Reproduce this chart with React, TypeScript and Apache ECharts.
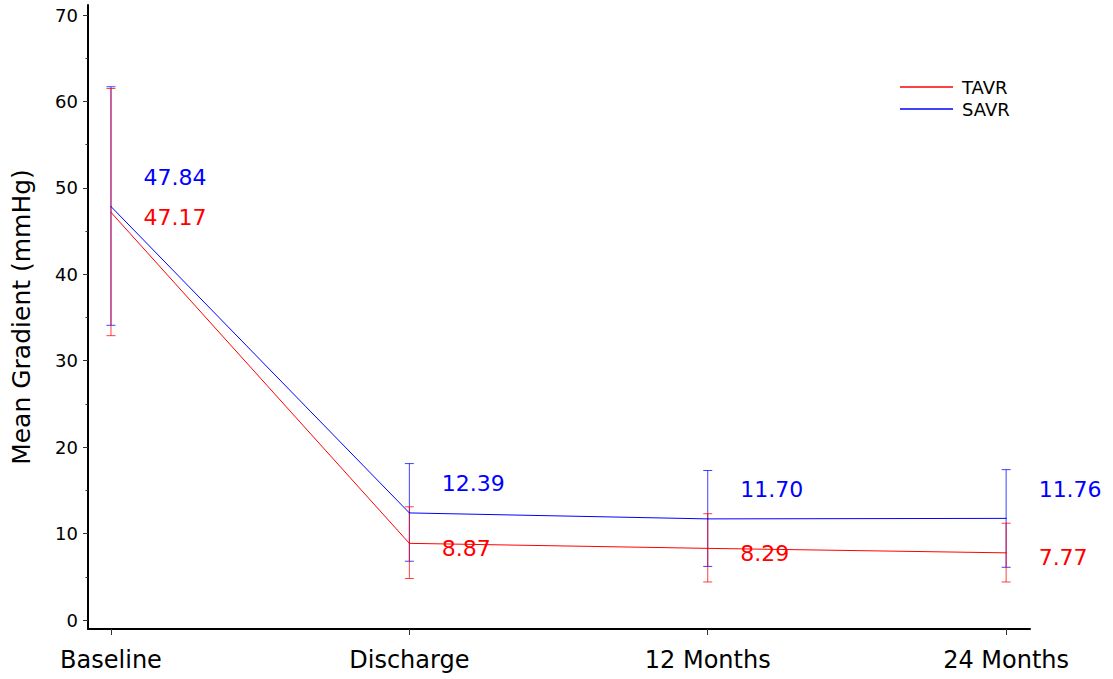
import React, { useEffect, useRef } from "react";
import * as echarts from "echarts";

const categories = ["Baseline", "Discharge", "12 Months", "24 Months"];
const tavrMean = [47.17, 8.87, 8.29, 7.77];
const savrMean = [47.84, 12.39, 11.7, 11.76];
const tavrLow = [32.9, 4.8, 4.4, 4.4];
const tavrHigh = [61.5, 13.1, 12.3, 11.2];
const savrLow = [34.1, 6.8, 6.2, 6.1];
const savrHigh = [61.7, 18.1, 17.3, 17.4];
const yMajorTicks = [0, 10, 20, 30, 40, 50, 60, 70];
const yMinorTicks = [5, 15, 25, 35, 45, 55, 65];
const xTicks = [0, 1, 2, 3];

const RED = "#ff0000";
const BLUE = "#0000ff";
const FONT = "DejaVu Sans";

function errorSeries(name: string, low: number[], high: number[], color: string) {
  return {
    type: "custom",
    name: name + "_err",
    data: low.map((l, i) => [i, l, high[i]]),
    z: 3,
    renderItem: (params: any, api: any) => {
      const x = api.value(0);
      const lo = api.coord([x, api.value(1)]);
      const hi = api.coord([x, api.value(2)]);
      const w = 4.5;
      const style = { stroke: color, lineWidth: 1, opacity: 0.75 };
      return {
        type: "group",
        children: [
          { type: "line", shape: { x1: lo[0], y1: lo[1], x2: hi[0], y2: hi[1] }, style },
          { type: "line", shape: { x1: lo[0] - w, y1: lo[1], x2: lo[0] + w, y2: lo[1] }, style },
          { type: "line", shape: { x1: hi[0] - w, y1: hi[1], x2: hi[0] + w, y2: hi[1] }, style },
        ],
      };
    },
  };
}

function lineSeries(name: string, values: number[], color: string, dy: number) {
  return {
    type: "line",
    name,
    data: values.map((v, i) => [i, v]),
    symbol: "circle",
    symbolSize: 1,
    showSymbol: true,
    z: 4,
    lineStyle: { color, width: 1 },
    itemStyle: { color },
    label: {
      show: true,
      position: "right",
      distance: 32,
      offset: [0, dy],
      color,
      fontFamily: FONT,
      fontSize: 22,
      formatter: (p: any) => Number(p.value[1]).toFixed(2),
    },
  };
}

export default function App() {
  const ref = useRef<HTMLDivElement>(null);
  useEffect(() => {
    document.body.style.margin = "0";
    const chart = echarts.init(ref.current!, null, { renderer: "svg" });
    chart.setOption({
      animation: false,
      backgroundColor: "#ffffff",
      textStyle: { fontFamily: FONT },
      grid: { left: 88, right: 83, top: 5, bottom: 50 },
      legend: {
        orient: "vertical",
        left: 895,
        top: 73,
        itemWidth: 53,
        itemHeight: 1.5,
        itemGap: 4,
        data: [
          { name: "TAVR", icon: "rect" },
          { name: "SAVR", icon: "rect" },
        ],
        textStyle: { fontSize: 18, color: "#000", fontFamily: FONT, lineHeight: 18, padding: [0, 0, 0, 4] },
      },
      xAxis: {
        type: "value",
        min: -0.077,
        max: 3.08,
        splitLine: { show: false },
        axisLine: { show: true, onZero: false, lineStyle: { color: "#000", width: 2 } },
        axisTick: { show: true, customValues: xTicks, length: 6, lineStyle: { color: "#333", width: 1 } },
        axisLabel: {
          customValues: xTicks,
          margin: 19,
          fontSize: 24,
          color: "#000",
          fontFamily: FONT,
          formatter: (v: number) => categories[Math.round(v)] ?? "",
        },
      },
      yAxis: [
        {
          type: "value",
          min: -1.04,
          max: 71.16,
          name: "Mean Gradient (mmHg)",
          nameLocation: "middle",
          nameGap: 54,
          nameTextStyle: { fontSize: 25, color: "#000", fontFamily: FONT },
          splitLine: { show: false },
          axisLine: { show: true, onZero: false, lineStyle: { color: "#000", width: 2 } },
          axisTick: { show: true, customValues: yMajorTicks, length: 5, lineStyle: { color: "#333", width: 1 } },
          axisLabel: { customValues: yMajorTicks, margin: 10, fontSize: 18, color: "#000", fontFamily: FONT },
        },
        {
          type: "value",
          min: -1.04,
          max: 71.16,
          position: "left",
          splitLine: { show: false },
          axisLine: { show: false, onZero: false },
          axisTick: { show: true, customValues: yMinorTicks, length: 2.5, lineStyle: { color: "#333", width: 1 } },
          axisLabel: { show: false },
        },
      ],
      series: [
        errorSeries("SAVR", savrLow, savrHigh, BLUE),
        errorSeries("TAVR", tavrLow, tavrHigh, RED),
        lineSeries("TAVR", tavrMean, RED, 5),
        lineSeries("SAVR", savrMean, BLUE, -29),
      ],
    });
    return () => chart.dispose();
  }, []);
  return <div ref={ref} style={{ width: 1113, height: 679 }} />;
}
